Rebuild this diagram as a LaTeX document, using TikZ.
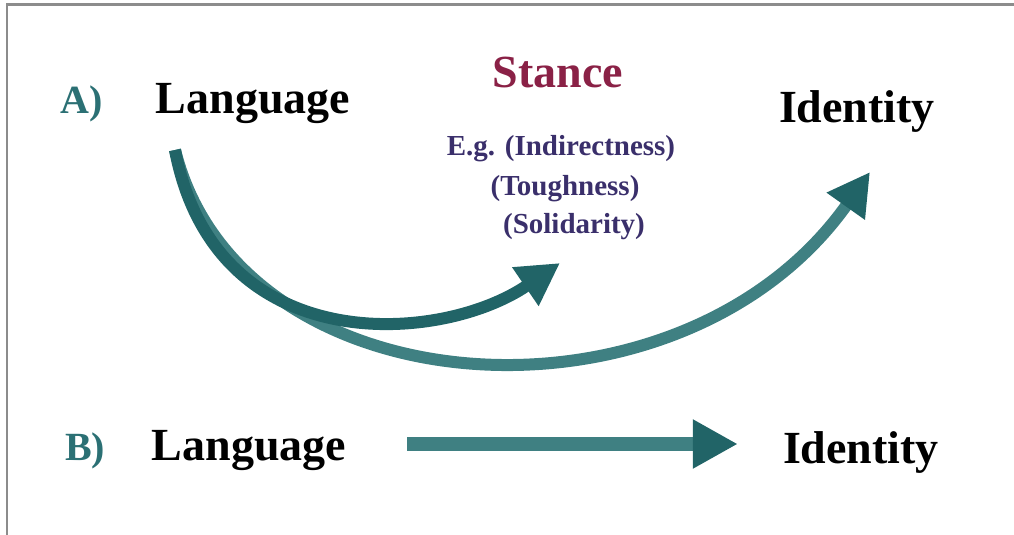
\documentclass[tikz,border=0pt]{standalone}
\usepackage{fontspec}
\setmainfont{Liberation Serif}
\usetikzlibrary{arrows.meta}
\definecolor{tealA}{HTML}{2B7074}
\definecolor{arrowc}{HTML}{216467}
\definecolor{arrowl}{HTML}{3F8082}
\definecolor{stancec}{HTML}{8A2146}
\definecolor{egc}{HTML}{3A2F6B}
\definecolor{framec}{HTML}{8C8C8C}
\begin{document}
\begin{tikzpicture}[x=1pt,y=-1pt,
  big/.style={font=\bfseries\fontsize{46}{50}\selectfont, inner sep=0pt, anchor=base},
  lab/.style={font=\bfseries\fontsize{40}{44}\selectfont, text=tealA, inner sep=0pt, anchor=base},
  eg/.style={font=\bfseries\fontsize{29}{32}\selectfont, text=egc, inner sep=0pt, anchor=base},
  arr/.style={draw=arrowc, line width=12pt, -{Triangle[length=42pt,width=44pt,color=arrowc]}},
]
\useasboundingbox (0,0) rectangle (1014,535);
\draw[framec, line width=2.5pt] (7,535) -- (7,4.5) -- (1014,4.5);

\node[lab] (la) at (82,113) {A)};
\node[big] (lA) at (253,113) {Language};
\node[big, text=stancec] (st) at (558,87) {Stance};
\node[eg] (e1) at (561,155) {E.g. (Indirectness)};
\node[eg] (e2) at (565,195) {(Toughness)};
\node[eg] (e3) at (574,233) {(Solidarity)};
\node[big] (iA) at (857,122) {Identity};
\node[lab] (lb) at (85,460) {B)};
\node[big] (lB) at (249,460) {Language};
\node[big] (iB) at (861,463) {Identity};

\coordinate (s) at (175,150);
\coordinate (t1) at (560,263);
\coordinate (t2) at (870,172);

\draw[arr, draw=arrowl] (s) .. controls (240,412) and (680,440) .. (t2);
\draw[arr] (s) .. controls (215,360) and (440,345) .. (t1);
\draw[arr, draw=arrowl, line width=14pt, -{Triangle[length=45pt,width=46pt,color=arrowc]}]
  ([shift={(61,-16)}]lB.base east) -- ([shift={(-45,-19)}]iB.base west);
\end{tikzpicture}
\end{document}
